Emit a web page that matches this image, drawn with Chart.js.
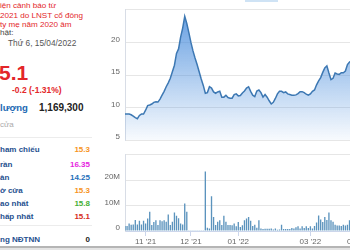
<!DOCTYPE html>
<html>
<head>
<meta charset="utf-8">
<script src="https://cdn.jsdelivr.net/npm/chart.js@4.4.1/dist/chart.umd.min.js"></script>
<style>
html,body{margin:0;padding:0;background:#fff;}
#wrap{position:relative;width:350px;height:250px;overflow:hidden;background:#fff;font-family:'Liberation Sans',Arial,sans-serif;}
.t{position:absolute;white-space:nowrap;line-height:1;}
.red{color:#e3262a;}
.lab{color:#26508f;font-weight:bold;font-size:8px;left:0;}
.val{font-weight:bold;font-size:8px;left:0;width:90px;text-align:right;}
.sep{position:absolute;left:0;width:92px;height:1px;background:#ececec;}
canvas{position:absolute;}
</style>
</head>
<body>
<div id="wrap">
  <div class="t red" style="left:0;top:2.2px;font-size:8.1px;">iện cảnh báo từ</div>
  <div class="t red" style="left:0;top:12.2px;font-size:8.1px;">2021 do LNST cổ đông</div>
  <div class="t red" style="left:0;top:21.2px;font-size:8.1px;">ty mẹ năm 2020 âm</div>
  <div class="t" style="left:0;top:29.2px;font-size:8.1px;color:#444;">hật:</div>
  <div class="t" style="left:8px;top:39px;font-size:8.3px;color:#555;">Thứ 6, 15/04/2022</div>
  <div class="t red" style="left:-1px;top:62.2px;font-size:21px;font-weight:bold;">5.1</div>
  <div class="t red" style="left:12px;top:86.4px;font-size:8.5px;font-weight:bold;">-0.2 (-1.31%)</div>
  <div class="t" style="left:0;top:103px;font-size:9.5px;font-weight:bold;color:#2168b3;">lượng</div>
  <div class="t" style="left:39px;top:102.5px;font-size:10px;font-weight:bold;color:#222;">1,169,300</div>
  <div class="t" style="left:0;top:121.2px;font-size:8px;color:#aaa;">cửa</div>
  <div class="sep" style="top:137px;"></div>
  <div class="t lab" style="top:146.2px;">ham chiếu</div>
  <div class="t val" style="top:146.2px;color:#f7941d;">15.3</div>
  <div class="t lab" style="top:160.5px;">rần</div>
  <div class="t val" style="top:160.5px;color:#e61ee0;">16.35</div>
  <div class="t lab" style="top:173.5px;">àn</div>
  <div class="t val" style="top:173.5px;color:#1e6fba;">14.25</div>
  <div class="t lab" style="top:186.9px;">ờ cửa</div>
  <div class="t val" style="top:186.9px;color:#f7941d;">15.3</div>
  <div class="t lab" style="top:200.2px;">ao nhất</div>
  <div class="t val" style="top:200.2px;color:#45b035;">15.8</div>
  <div class="t lab" style="top:212.9px;">hấp nhất</div>
  <div class="t val" style="top:212.9px;color:#d62d20;">15.1</div>
  <div class="sep" style="top:225px;"></div>
  <div class="t lab" style="top:236.2px;">ng NĐTNN</div>
  <div class="t val" style="top:236.2px;color:#222;">0</div>
  <div style="position:absolute;left:245px;top:0;width:33px;height:2px;background:#cfe3f5;"></div>
  <canvas id="price" width="295" height="150" style="left:85px;top:0;"></canvas>
  <canvas id="vol" width="295" height="105" style="left:85px;top:145px;"></canvas>
  <div style="position:absolute;left:0;top:246px;width:350px;height:1.5px;background:#b5b5b5;"></div>
  <div style="position:absolute;left:0;top:247.5px;width:350px;height:2.5px;background:#e4e4e4;"></div>
</div>
<script>
const dates = [
 '18/10/2021','19/10/2021','20/10/2021','21/10/2021','22/10/2021','25/10/2021','26/10/2021','27/10/2021','28/10/2021','29/10/2021',
 '01/11/2021','02/11/2021','03/11/2021','04/11/2021','05/11/2021','08/11/2021','09/11/2021','10/11/2021','11/11/2021','12/11/2021',
 '15/11/2021','16/11/2021','17/11/2021','18/11/2021','19/11/2021','22/11/2021','23/11/2021','24/11/2021','25/11/2021','26/11/2021',
 '29/11/2021','30/11/2021',
 '01/12/2021','02/12/2021','03/12/2021','06/12/2021','07/12/2021','08/12/2021','09/12/2021','10/12/2021','13/12/2021','14/12/2021',
 '15/12/2021','16/12/2021','17/12/2021','20/12/2021','21/12/2021','22/12/2021','23/12/2021','24/12/2021','27/12/2021','28/12/2021',
 '29/12/2021','30/12/2021','31/12/2021',
 '04/01/2022','05/01/2022','06/01/2022','07/01/2022','10/01/2022','11/01/2022','12/01/2022','13/01/2022','14/01/2022','17/01/2022',
 '18/01/2022','19/01/2022','20/01/2022','21/01/2022','24/01/2022','25/01/2022','26/01/2022','27/01/2022','28/01/2022',
 '07/02/2022','08/02/2022','09/02/2022','10/02/2022','11/02/2022','14/02/2022','15/02/2022','16/02/2022','17/02/2022','18/02/2022',
 '21/02/2022','22/02/2022','23/02/2022','24/02/2022','25/02/2022','28/02/2022',
 '01/03/2022','02/03/2022','03/03/2022','04/03/2022','07/03/2022','08/03/2022','09/03/2022','10/03/2022','11/03/2022','14/03/2022',
 '15/03/2022','16/03/2022','17/03/2022','18/03/2022','21/03/2022','22/03/2022','23/03/2022','24/03/2022','25/03/2022','28/03/2022',
 '29/03/2022','30/03/2022','31/03/2022',
 '01/04/2022','04/04/2022','05/04/2022','06/04/2022','07/04/2022','08/04/2022','12/04/2022','13/04/2022','14/04/2022','15/04/2022'
];
const prices = [
 9.0, 9.0, 9.0, 8.9, 8.7, 8.45, 8.3, 8.8, 9.0, 9.0,
 9.6, 10.3, 10.4, 10.55, 10.8, 10.9, 10.85, 11.3, 11.9, 12.5,
 13.2, 13.8, 14.5, 15.5, 16.5, 18.3, 19.0, 20.8, 22.2, 24.0,
 22.9, 21.5, 20.0, 18.7, 17.6, 16.6, 15.5, 14.4, 13.4, 12.2,
 12.3, 13.2, 13.0, 12.4, 12.2, 12.4, 12.5, 11.6, 11.6, 11.9,
 11.55, 11.45, 11.45, 12.0, 12.1, 11.8, 11.85, 12.25, 12.55, 13.0,
 13.2, 12.5, 11.9, 11.7, 12.55, 12.7, 12.3, 11.6, 12.0, 11.6,
 11.05, 10.55, 10.8, 11.4, 12.1, 12.5, 12.5, 12.3, 12.4, 12.1,
 12.0, 11.9, 11.9, 11.95, 12.15, 12.45, 12.45, 12.3, 12.05, 11.9,
 12.1, 12.5, 12.7, 13.5, 14.1, 14.6, 15.4, 16.1, 16.4, 15.3,
 14.3, 14.5, 15.3, 15.15, 15.1, 15.35, 15.35, 15.6, 16.6, 17.0, 17.2
];
const volumesM = [
 2.0, 2.0, 3.0, 2.5, 2.6, 4.3, 2.6, 4.0, 2.6, 4.0,
 3.0, 4.9, 7.6, 2.4, 3.5, 4.2, 2.4, 4.2, 3.8, 4.2,
 3.6, 6.5, 2.4, 3.6, 7.3, 6.0, 5.0, 3.0, 2.6, 10.8,
 7.6, 0.3, 0.1, 0.1, 0.1, 0.1, 0.1, 0.1, 0.1, 23.4,
 1.3, 1.0, 13.7, 5.5, 2.4, 3.6, 4.2, 2.4, 6.0, 3.6,
 2.4, 2.4, 2.3, 3.0, 1.9, 3.5, 1.6, 2.3, 4.2, 4.9,
 5.5, 4.0, 2.0, 2.5, 1.3, 4.2, 1.0, 0.8, 0.9, 0.9,
 0.9, 1.0, 0.6, 1.0, 0.5, 0.6, 2.5, 0.8, 0.8, 0.8,
 0.8, 1.2, 1.0, 1.5, 1.9, 1.0, 1.9, 1.2, 1.9, 1.2,
 1.9, 1.0, 2.0, 3.3, 6.1, 4.5, 3.5, 5.5, 4.3, 7.3,
 4.2, 3.6, 2.5, 2.2, 2.2, 2.0, 2.5, 2.2, 2.5, 4.2, 3.0
];
const monthTickDates = ['01/11/2021','01/12/2021','04/01/2022','01/03/2022','01/04/2022'];
const monthTickLabels = ["11 '21","12 '21","01 '22","03 '22","04 '22"];

Chart.defaults.font.family = "'Liberation Sans', Arial, sans-serif";
Chart.defaults.animation = false;

const gridColor = '#e6e6e6';
const axisLine = '#d8dde6';
const tickColor = '#666';

new Chart(document.getElementById('price'), {
  type: 'line',
  data: {
    labels: dates,
    datasets: [{
      data: prices,
      borderColor: '#3d78b3',
      borderWidth: 1.5,
      pointRadius: 0,
      tension: 0,
      fill: 'start',
      backgroundColor: (ctx) => {
        const ch = ctx.chart; const a = ch.chartArea;
        if (!a) return 'rgba(70,140,220,0.3)';
        const g = ch.ctx.createLinearGradient(0, a.top, 0, a.bottom);
        g.addColorStop(0, 'rgba(72,140,220,0.85)');
        g.addColorStop(1, 'rgba(72,140,220,0.04)');
        return g;
      }
    }]
  },
  options: {
    responsive: false,
    animation: false,
    layout: { padding: { top: 6.5, right: 3.7, bottom: 9.5, left: 0 } },
    plugins: { legend: { display: false }, tooltip: { enabled: false } },
    scales: {
      x: { type: 'category', display: false },
      y: {
        min: 5, max: 25,
        afterFit: (axis) => { axis.width = 40; },
        ticks: {
          stepSize: 5, color: tickColor, font: { size: 8 }, padding: 5, labelOffset: -3,
          callback: (v) => v === 25 ? '' : String(v)
        },
        grid: { color: gridColor, drawTicks: false, tickLength: 0 },
        border: { display: true, color: axisLine }
      }
    }
  }
});

new Chart(document.getElementById('vol'), {
  type: 'bar',
  data: {
    labels: dates,
    datasets: [{
      data: volumesM,
      backgroundColor: '#5b93bd',
      barPercentage: 0.65,
      categoryPercentage: 1.0
    }]
  },
  options: {
    responsive: false,
    animation: false,
    layout: { padding: { top: 7, right: 3.7, bottom: 0, left: 0 } },
    plugins: { legend: { display: false }, tooltip: { enabled: false } },
    scales: {
      x: {
        type: 'category',
        offset: false,
        afterFit: (axis) => { axis.height = 19; },
        grid: { offset: false, drawOnChartArea: false, drawTicks: true, tickLength: 5, color: '#ccd6eb' },
        border: { display: true, color: '#ccd6eb' },
        ticks: {
          autoSkip: false, maxRotation: 0, minRotation: 0, padding: 1,
          color: tickColor, font: { size: 8 },
          callback: function (v, i) {
            const k = monthTickDates.indexOf(dates[i]);
            return k >= 0 ? monthTickLabels[k] : null;
          }
        }
      },
      y: {
        min: 0, max: 30,
        afterFit: (axis) => { axis.width = 40; },
        ticks: {
          stepSize: 10, color: tickColor, font: { size: 8 }, padding: 5, labelOffset: -3,
          callback: (v) => v === 0 ? '0' : (v === 30 ? '' : v + 'M')
        },
        grid: { color: gridColor, drawTicks: false, tickLength: 0 },
        border: { display: true, color: axisLine }
      }
    }
  }
});
</script>
</body>
</html>
